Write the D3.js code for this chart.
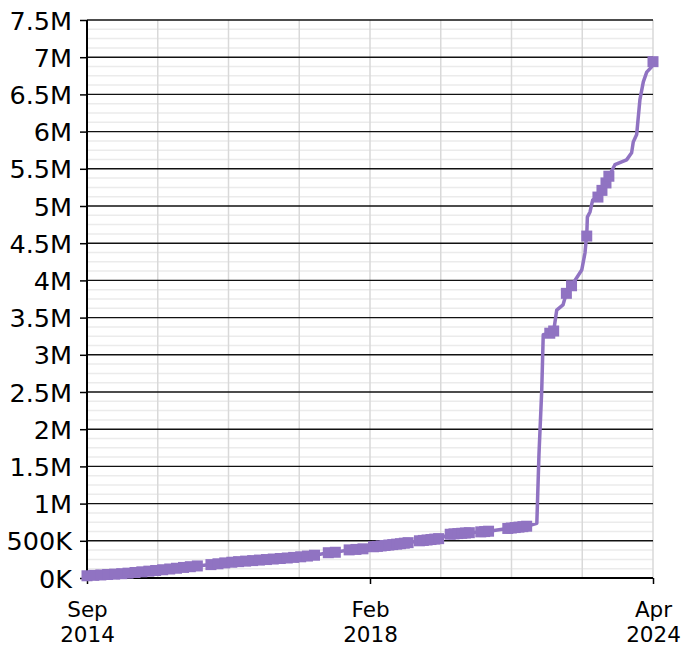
<!DOCTYPE html>
<html><head><meta charset="utf-8">
<script src="https://cdn.jsdelivr.net/npm/d3@7"></script>
<style>
body{margin:0;background:#fff}
text{font-family:"DejaVu Sans",sans-serif;fill:#000}
</style>
</head><body>
<svg id="chart" width="692" height="651"></svg>
<script>
// ---- data ----
const dates = [
 "2014-09-01","2014-10-01","2014-11-01","2014-12-01","2015-01-01","2015-02-01","2015-03-01","2015-04-01",
 "2015-05-01","2015-06-01","2015-07-01","2015-08-01","2015-09-01","2015-10-01","2015-11-01","2015-12-01",
 "2016-01-01","2016-03-01","2016-04-01","2016-05-01","2016-06-01","2016-07-01","2016-08-01","2016-09-01",
 "2016-10-01","2016-11-01","2016-12-01","2017-01-01","2017-02-01","2017-03-01","2017-04-01","2017-05-01",
 "2017-06-01","2017-08-01","2017-09-01","2017-11-01","2017-12-01","2018-01-01",
 "2018-03-01","2018-04-01","2018-05-01","2018-06-01","2018-07-01","2018-08-01","2018-09-01","2018-10-01",
 "2018-11-01","2018-12-01","2019-03-01","2019-04-01","2019-05-01","2019-06-01","2019-07-01","2019-08-01",
 "2019-11-01","2019-12-01","2020-01-01","2020-02-01","2020-03-01","2020-04-01","2020-07-01","2020-08-01",
 "2020-09-01","2021-02-01","2021-03-01","2021-04-01","2021-05-01","2021-06-01","2021-07-01",
 "2021-09-20","2021-10-07","2021-10-29","2021-11-10","2022-01-01","2022-02-01","2022-02-25","2022-04-16",
 "2022-05-13","2022-06-23","2022-09-12","2022-10-08","2022-10-16","2022-10-22","2022-10-27","2022-11-17",
 "2022-12-08","2023-01-19","2023-02-20","2023-03-24","2023-04-16","2023-06-03","2023-09-04","2023-10-14",
 "2023-10-27","2023-11-23","2023-12-19","2024-01-15","2024-02-11","2024-03-21","2024-04-01"
];
const values = [
 30000,36000,41000,47000,52000,58000,65000,74000,
 83000,92000,101000,111000,121000,131000,142000,152000,
 162000,180000,191000,203000,212000,220000,227000,234000,
 241000,248000,255000,262000,269000,277000,285000,295000,
 306000,340000,346000,378000,384000,392000,
 420000,425000,431000,437000,443000,449000,455000,461000,
 468000,475000,500000,505000,511000,517000,523000,529000,
 588000,593000,597000,601000,605000,609000,620000,624000,
 629000,666000,672000,678000,684000,690000,696000,
 735000,1664000,2525000,3270000,3290000,3320000,3600000,3670000,
 3826000,3928000,4139000,4368000,4516000,4596000,4850000,4920000,
 5080000,5120000,5210000,5310000,5400000,5555000,5620000,5716000,
 5860000,5960000,6430000,6668000,6800000,6870000,6940000
];
const marked = [
 1,1,1,1,1,1,1,1, 1,1,1,1,1,1,1,1,
 1,1,1,1,1,1,1,1, 1,1,1,1,1,1,1,1,
 1,1,1,1,1,1,
 1,1,1,1,1,1,1,1, 1,1,1,1,1,1,1,1,
 1,1,1,1,1,1,1,1, 1,1,1,1,1,1,1,
 0,0,0,0,1,1,0,0, 1,1,0,0,0,1,0,0,
 0,1,1,1,1,0,0,0, 0,0,0,0,0,0,1
];
const xTickDates = ["2014-09-01","2018-02-01","2024-04-01"];
const xTickMonths = ["Sep","Feb","Apr"];
const xTickYears = ["2014","2018","2024"];
const yTickValues = [0,500000,1000000,1500000,2000000,2500000,3000000,3500000,4000000,4500000,5000000,5500000,6000000,6500000,7000000,7500000];
const yTickLabels = ["0K","500K","1M","1.5M","2M","2.5M","3M","3.5M","4M","4.5M","5M","5.5M","6M","6.5M","7M","7.5M"];

// ---- layout ----
const W = 692, H = 651;
const margin = {top: 20, right: 39, bottom: 73, left: 87};
const w = W - margin.left - margin.right;
const h = H - margin.top - margin.bottom;
const purple = "#9073c2";

const parse = d3.utcParse("%Y-%m-%d");
const data = dates.map((d, i) => ({date: parse(d), value: values[i], marked: marked[i]}));

const x = d3.scaleUtc().domain(xTickDates.map(parse)).range([0, w / 2, w]);
const y = d3.scaleLinear().domain([0, 7500000]).range([h, 0]);

const svg = d3.select("#chart");
const g = svg.append("g").attr("transform", `translate(${margin.left},${margin.top})`);

// minor horizontal grid
const minor = d3.range(0, 7500001, 125000).filter(v => v % 500000 !== 0);
g.append("g").selectAll("line").data(minor).join("line")
  .attr("x1", 0).attr("x2", w).attr("y1", d => y(d)).attr("y2", d => y(d))
  .attr("stroke", "#ebebeb").attr("stroke-width", 1.5);

// vertical grid
g.append("g").selectAll("line").data(d3.range(1, 9)).join("line")
  .attr("x1", d => d * w / 8).attr("x2", d => d * w / 8).attr("y1", 0).attr("y2", h)
  .attr("stroke", "#d9d9d9").attr("stroke-width", 1.5);

// major horizontal grid
g.append("g").selectAll("line").data(yTickValues.slice(1)).join("line")
  .attr("x1", 0).attr("x2", w).attr("y1", d => y(d)).attr("y2", d => y(d))
  .attr("stroke", "#111").attr("stroke-width", 1.4);

// y axis
const yAxis = g.append("g").call(
  d3.axisLeft(y).tickValues(yTickValues).tickFormat((d, i) => yTickLabels[i]).tickSize(7).tickPadding(8)
);
yAxis.select(".domain").attr("stroke", "#000").attr("stroke-width", 2).attr("d", `M0,0V${h}`);
yAxis.selectAll(".tick line").attr("stroke", "#000").attr("stroke-width", 1.5);
yAxis.selectAll(".tick text").attr("font-size", "25.5px").attr("fill", "#000")
  .attr("font-family", "DejaVu Sans").attr("dy", "0.36em");

// x axis
const xAxis = g.append("g").attr("transform", `translate(0,${h})`).call(
  d3.axisBottom(x).tickValues(xTickDates.map(parse)).tickSize(6).tickFormat("")
);
xAxis.select(".domain").attr("stroke", "#000").attr("stroke-width", 2).attr("d", `M0,0H${w}`);
xAxis.selectAll(".tick line").attr("stroke", "#000").attr("stroke-width", 1.5);
xAxis.selectAll(".tick").each(function(d, i) {
  const t = d3.select(this).append("text").attr("text-anchor", "middle")
    .attr("font-size", "21.5px").attr("fill", "#000").attr("font-family", "DejaVu Sans");
  t.append("tspan").attr("x", 0).attr("y", 38.5).text(xTickMonths[i]);
  t.append("tspan").attr("x", 0).attr("y", 63.5).text(xTickYears[i]);
});

// line
const line = d3.line().x(d => x(d.date)).y(d => y(d.value));
g.append("path").datum(data).attr("d", line)
  .attr("fill", "none").attr("stroke", purple).attr("stroke-width", 3.5)
  .attr("stroke-linejoin", "round");

// square markers
const ms = 11;
g.append("g").selectAll("rect").data(data.filter(d => d.marked)).join("rect")
  .attr("x", d => x(d.date) - ms / 2).attr("y", d => y(d.value) - ms / 2)
  .attr("width", ms).attr("height", ms).attr("fill", purple);
</script>
</body></html>
